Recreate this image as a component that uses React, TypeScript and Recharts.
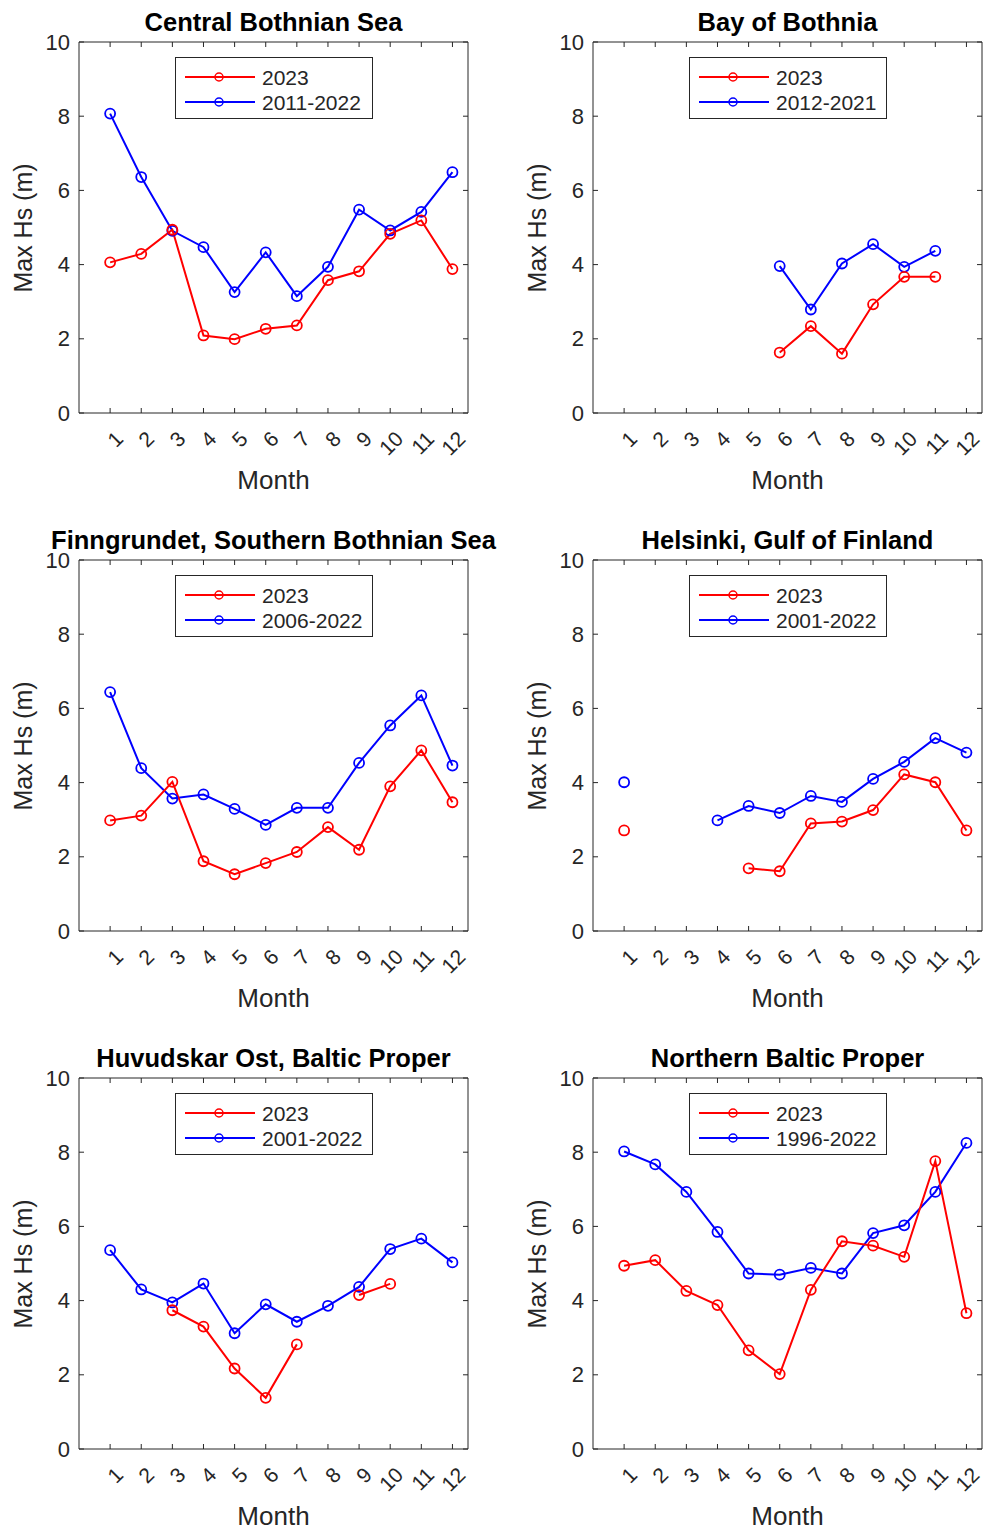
import { LineChart, Line, XAxis, YAxis, ReferenceArea } from "recharts";

const months = [1, 2, 3, 4, 5, 6, 7, 8, 9, 10, 11, 12];
const yTicks = [0, 2, 4, 6, 8, 10];

// monthly max Hs, null = no data
const centralBothnian2023 = [4.06, 4.29, 4.94, 2.09, 1.99, 2.27, 2.36, 3.58, 3.82, 4.83, 5.19, 3.88];
const centralBothnianRef = [8.07, 6.36, 4.91, 4.47, 3.26, 4.33, 3.15, 3.94, 5.48, 4.92, 5.42, 6.49];

const bayOfBothnia2023 = [null, null, null, null, null, 1.63, 2.34, 1.6, 2.93, 3.67, 3.67, null];
const bayOfBothniaRef = [null, null, null, null, null, 3.96, 2.79, 4.03, 4.55, 3.94, 4.37, null];

const finngrundet2023 = [2.98, 3.11, 4.02, 1.88, 1.53, 1.83, 2.13, 2.8, 2.19, 3.9, 4.87, 3.47];
const finngrundetRef = [6.44, 4.39, 3.57, 3.68, 3.29, 2.86, 3.32, 3.32, 4.53, 5.54, 6.35, 4.46];

const helsinki2023 = [2.71, null, null, null, 1.69, 1.61, 2.9, 2.95, 3.26, 4.22, 4.01, 2.71];
const helsinkiRef = [4.01, null, null, 2.98, 3.37, 3.18, 3.64, 3.48, 4.1, 4.56, 5.2, 4.81];

const huvudskar2023 = [null, null, 3.74, 3.3, 2.17, 1.38, 2.82, null, 4.15, 4.45, null, null];
const huvudskarRef = [5.36, 4.3, 3.95, 4.46, 3.12, 3.9, 3.43, 3.86, 4.37, 5.39, 5.67, 5.03];

const northernBaltic2023 = [4.94, 5.09, 4.26, 3.88, 2.66, 2.02, 4.29, 5.6, 5.48, 5.18, 7.76, 3.66];
const northernBalticRef = [8.02, 7.67, 6.93, 5.85, 4.73, 4.7, 4.88, 4.73, 5.82, 6.03, 6.93, 8.25];

const panels = [
  { title: "Central Bothnian Sea", refLabel: "2011-2022", cur: centralBothnian2023, ref: centralBothnianRef },
  { title: "Bay of Bothnia", refLabel: "2012-2021", cur: bayOfBothnia2023, ref: bayOfBothniaRef },
  { title: "Finngrundet, Southern Bothnian Sea", refLabel: "2006-2022", cur: finngrundet2023, ref: finngrundetRef },
  { title: "Helsinki, Gulf of Finland", refLabel: "2001-2022", cur: helsinki2023, ref: helsinkiRef },
  { title: "Huvudskar Ost, Baltic Proper", refLabel: "2001-2022", cur: huvudskar2023, ref: huvudskarRef },
  { title: "Northern Baltic Proper", refLabel: "1996-2022", cur: northernBaltic2023, ref: northernBalticRef },
];

const FONT = '"Liberation Sans", Arial, Helvetica, sans-serif';
const AXIS = "#262626";
const RED = "#ff0000";
const BLUE = "#0000ff";

const W = 470;
const H = 518;
const PLOT_LEFT = 79;
const PLOT_TOP = 42;
const PLOT_H = 371;
const PLOT_RIGHT = W - 2;
const PLOT_BOTTOM = PLOT_TOP + PLOT_H;
const TICK = 5;

// month label, plus the inward tick marks at bottom and top of the box
function MonthTick(props: any) {
  const { x, y, payload } = props;
  return (
    <g>
      <line x1={x} x2={x} y1={PLOT_BOTTOM} y2={PLOT_BOTTOM - TICK} stroke={AXIS} />
      <line x1={x} x2={x} y1={PLOT_TOP} y2={PLOT_TOP + TICK} stroke={AXIS} />
      <text
        x={0}
        y={0}
        textAnchor="end"
        dominantBaseline="central"
        transform={`translate(${x + 9},${y}) rotate(-45)`}
        fill={AXIS}
        fontSize={21}
        fontFamily={FONT}
      >
        {payload.value}
      </text>
    </g>
  );
}

function HsTick(props: any) {
  const { x, y, payload } = props;
  return (
    <g>
      <line x1={PLOT_LEFT} x2={PLOT_LEFT + TICK} y1={y} y2={y} stroke={AXIS} />
      <line x1={PLOT_RIGHT} x2={PLOT_RIGHT - TICK} y1={y} y2={y} stroke={AXIS} />
      <text
        x={x}
        y={y}
        textAnchor="end"
        dominantBaseline="central"
        fill={AXIS}
        fontSize={22}
        fontFamily={FONT}
      >
        {payload.value}
      </text>
    </g>
  );
}

function LegendBox({ refLabel }: { refLabel: string }) {
  const rows = [
    { color: RED, label: "2023" },
    { color: BLUE, label: refLabel },
  ];
  return (
    <div
      style={{
        position: "absolute",
        left: PLOT_LEFT + 96,
        top: 57,
        width: 198,
        height: 62,
        boxSizing: "border-box",
        border: `1px solid ${AXIS}`,
        background: "#fff",
      }}
    >
      <svg width={196} height={60} style={{ display: "block" }}>
        {rows.map((r, i) => (
          <g key={r.label}>
            <line x1={9} x2={79} y1={19 + i * 25} y2={19 + i * 25} stroke={r.color} strokeWidth={2} />
            <circle cx={43} cy={19 + i * 25} r={4} stroke={r.color} strokeWidth={1.5} fill="none" />
            <text
              x={86}
              y={19 + i * 25}
              dominantBaseline="central"
              fontSize={21}
              fontFamily={FONT}
              fill={AXIS}
            >
              {r.label}
            </text>
          </g>
        ))}
      </svg>
    </div>
  );
}

function Panel({ panel, left, top }: { panel: (typeof panels)[number]; left: number; top: number }) {
  const data = months.map((m, i) => ({ month: m, cur: panel.cur[i], ref: panel.ref[i] }));
  const cx = (PLOT_LEFT + PLOT_RIGHT) / 2;
  return (
    <div style={{ position: "absolute", left, top, width: W, height: H, fontFamily: FONT }}>
      <LineChart width={W} height={H} data={data} margin={{ top: PLOT_TOP, right: W - PLOT_RIGHT, bottom: 0, left: 0 }}>
        <XAxis
          dataKey="month"
          type="number"
          domain={[0, 12.5]}
          ticks={months}
          height={H - PLOT_TOP - PLOT_H}
          tickSize={0}
          tickMargin={22}
          tick={<MonthTick />}
          axisLine={false}
          tickLine={false}
          interval={0}
        />
        <YAxis
          type="number"
          domain={[0, 10]}
          ticks={yTicks}
          width={PLOT_LEFT}
          tickSize={0}
          tickMargin={9}
          tick={<HsTick />}
          axisLine={false}
          tickLine={false}
          interval={0}
        />
        <ReferenceArea x1={0} x2={12.5} y1={0} y2={10} fill="none" stroke={AXIS} strokeWidth={1} ifOverflow="visible" />
        <Line
          dataKey="ref"
          stroke={BLUE}
          strokeWidth={2}
          dot={{ r: 5, stroke: BLUE, strokeWidth: 1.8, fill: "none" }}
          activeDot={false}
          isAnimationActive={false}
        />
        <Line
          dataKey="cur"
          stroke={RED}
          strokeWidth={2}
          dot={{ r: 5, stroke: RED, strokeWidth: 1.8, fill: "none" }}
          activeDot={false}
          isAnimationActive={false}
        />
      </LineChart>
      <div
        style={{
          position: "absolute",
          left: cx,
          top: 23,
          transform: "translate(-50%, -50%)",
          whiteSpace: "nowrap",
          fontWeight: "bold",
          fontSize: 25.5,
          lineHeight: 1,
          color: "#000",
        }}
      >
        {panel.title}
      </div>
      <div
        style={{
          position: "absolute",
          left: PLOT_LEFT - 56,
          top: PLOT_TOP + PLOT_H / 2,
          transform: "translate(-50%, -50%) rotate(-90deg)",
          whiteSpace: "nowrap",
          fontSize: 25,
          color: AXIS,
        }}
      >
        Max Hs (m)
      </div>
      <div
        style={{
          position: "absolute",
          left: cx,
          top: PLOT_BOTTOM + 67,
          transform: "translate(-50%, -50%)",
          whiteSpace: "nowrap",
          fontSize: 26,
          color: AXIS,
        }}
      >
        Month
      </div>
      <LegendBox refLabel={panel.refLabel} />
    </div>
  );
}

export default function App() {
  return (
    <div
      style={{
        position: "absolute",
        left: 0,
        top: 0,
        width: 983,
        height: 1530,
        overflow: "hidden",
        background: "#fff",
      }}
    >
      {panels.map((p, i) => (
        <Panel key={p.title} panel={p} left={(i % 2) * 514} top={Math.floor(i / 2) * 518} />
      ))}
    </div>
  );
}
